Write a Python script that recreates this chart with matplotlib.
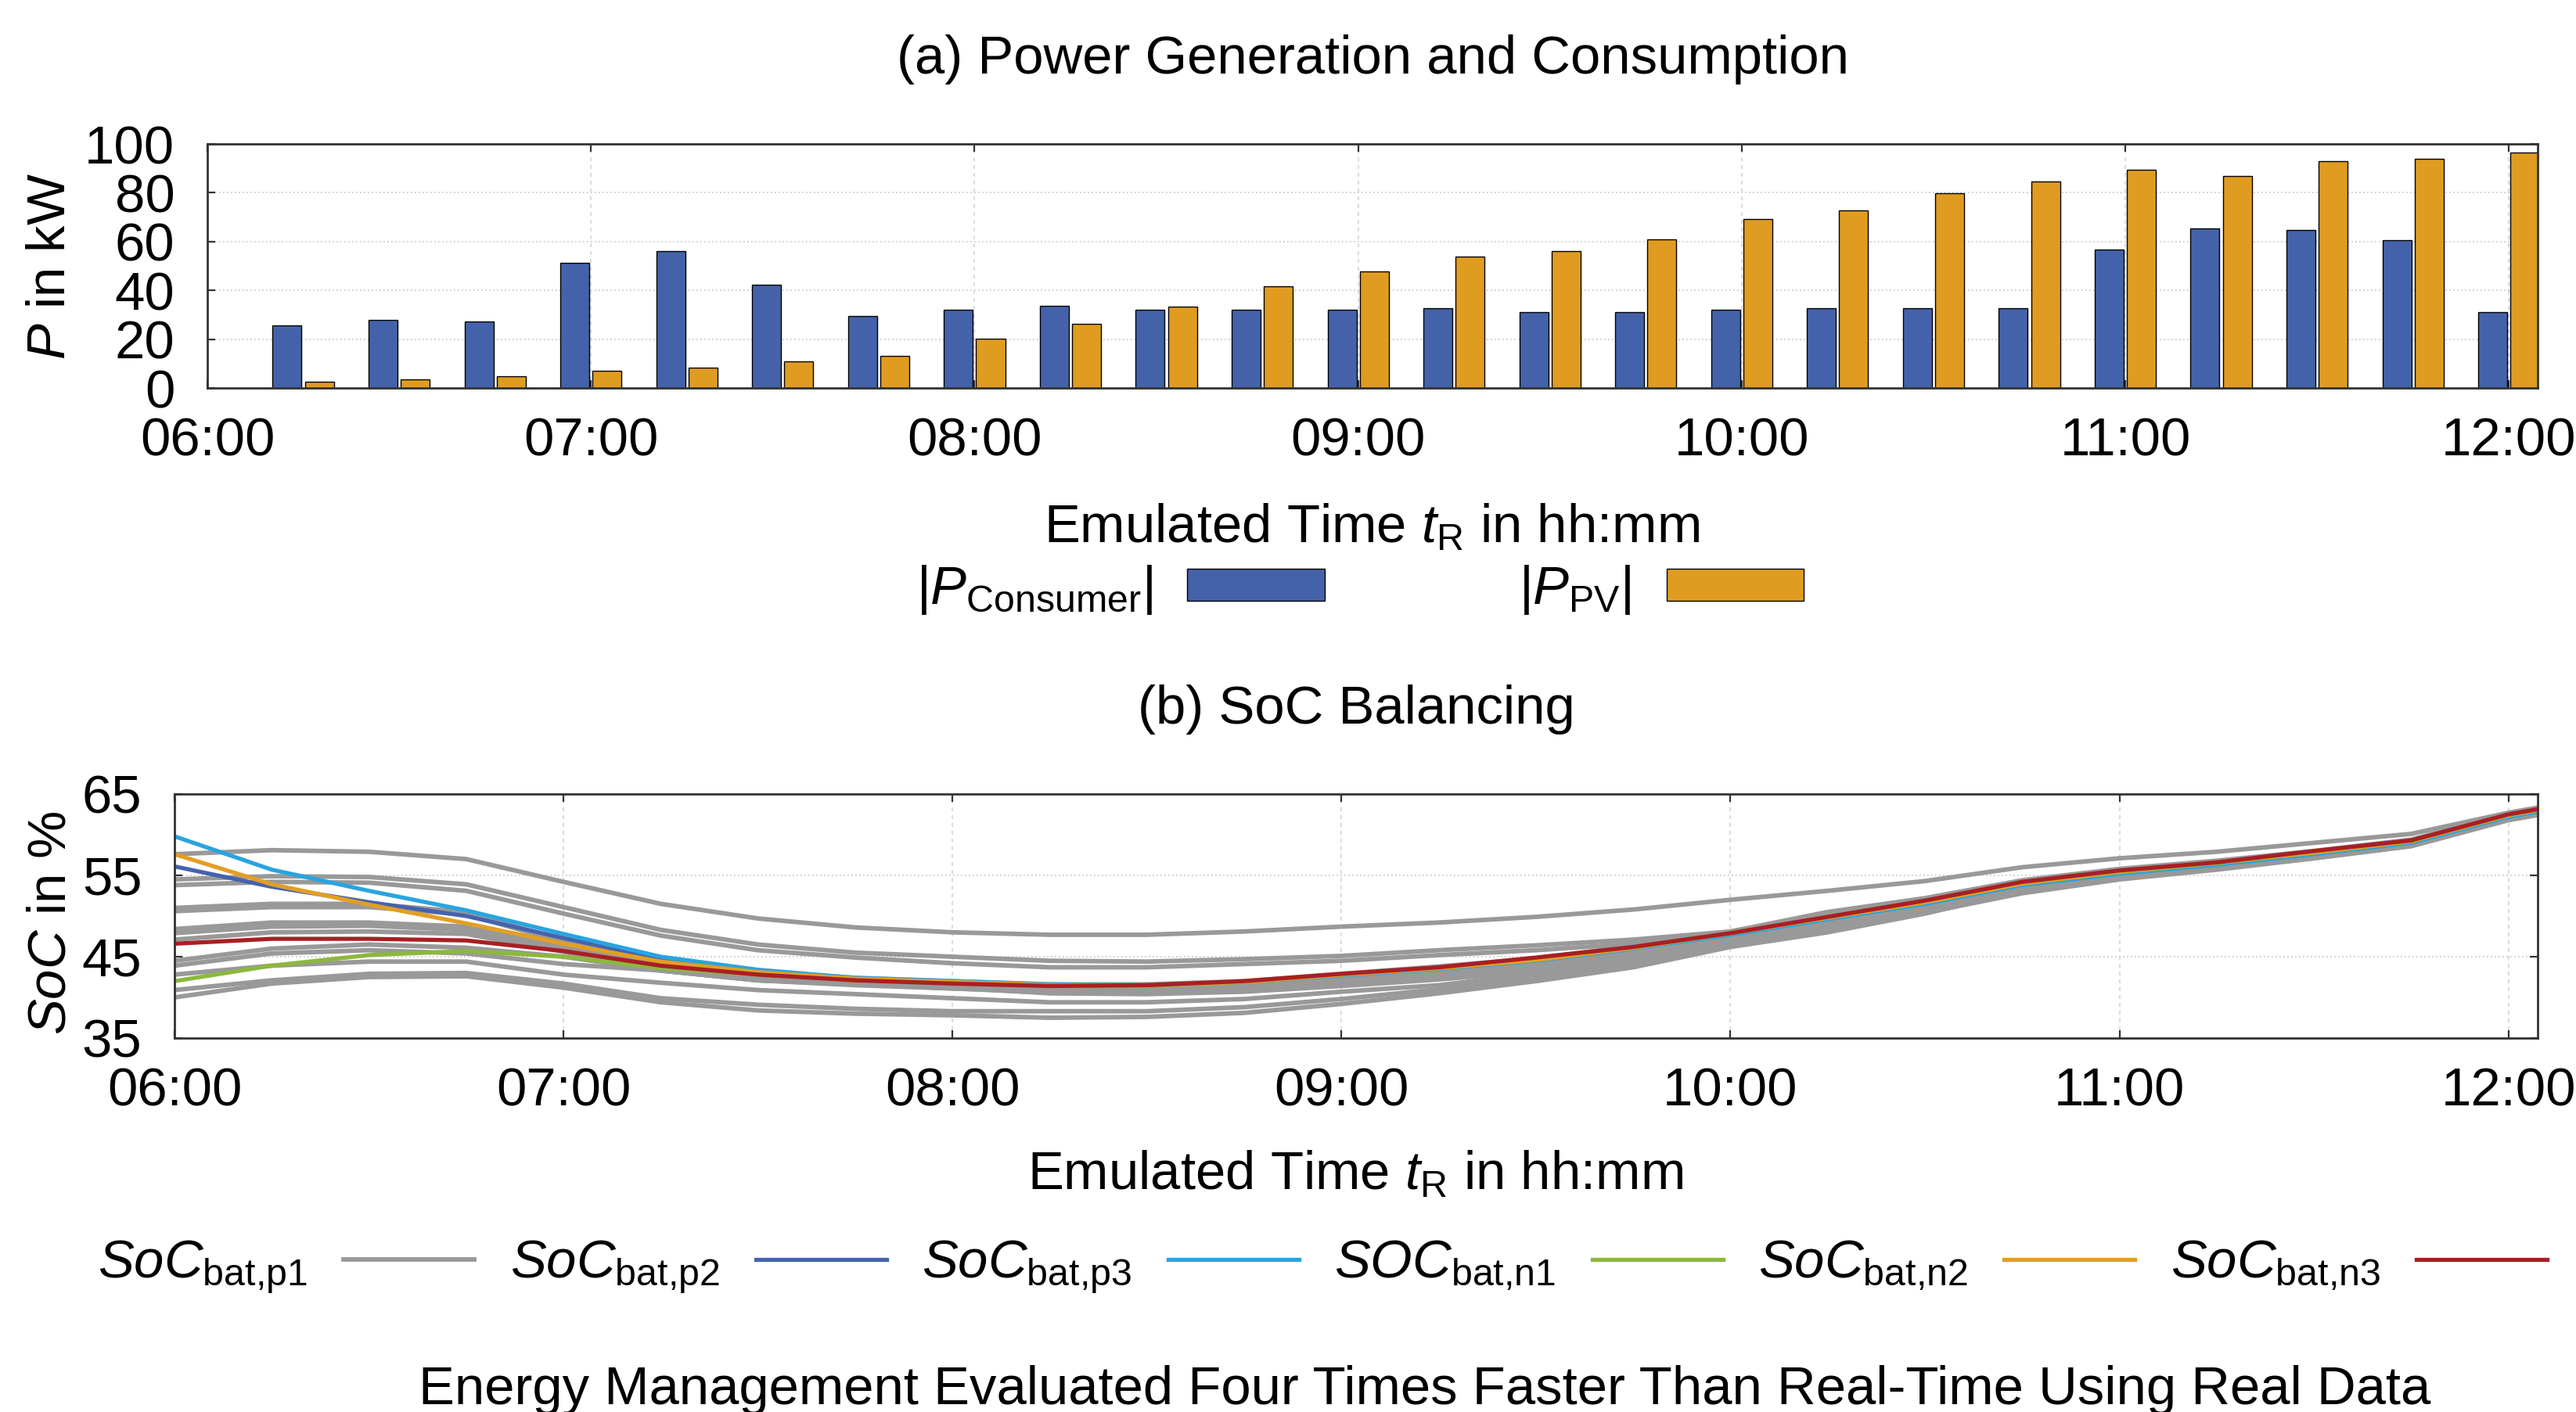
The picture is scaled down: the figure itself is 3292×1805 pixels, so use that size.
import matplotlib
matplotlib.use("Agg")
import matplotlib.pyplot as plt
import numpy as np

plt.rcParams['font.family'] = ['Liberation Sans', 'DejaVu Sans']
plt.rcParams['mathtext.fontset'] = 'custom'
plt.rcParams['mathtext.rm'] = 'Liberation Sans'
plt.rcParams['mathtext.it'] = 'Liberation Sans:italic'
plt.rcParams['mathtext.bf'] = 'Liberation Sans:bold'
plt.rcParams['font.size'] = 24.8

# ---------------- data ----------------
bar_times = ["06:15", "06:30", "06:45", "07:00", "07:15", "07:30", "07:45", "08:00",
             "08:15", "08:30", "08:45", "09:00", "09:15", "09:30", "09:45", "10:00",
             "10:15", "10:30", "10:45", "11:00", "11:15", "11:30", "11:45", "12:00"]
p_consumer = [25.6, 28.0, 27.2, 51.2, 56.0, 42.4, 29.6, 32.0,
              33.7, 32.0, 32.0, 32.0, 32.7, 31.2, 31.2, 32.0,
              32.7, 32.7, 32.7, 56.6, 65.4, 64.7, 60.7, 31.2]
p_pv = [2.5, 3.6, 4.8, 7.2, 8.4, 10.9, 13.2, 20.3,
        26.3, 33.4, 41.6, 47.7, 53.7, 56.0, 60.8, 69.2,
        72.7, 79.7, 84.5, 89.3, 87.0, 93.0, 94.0, 96.5]

soc_times = ["06:00", "06:15", "06:30", "06:45", "07:00", "07:15", "07:30", "07:45",
             "08:00", "08:15", "08:30", "08:45", "09:00", "09:15", "09:30", "09:45",
             "10:00", "10:15", "10:30", "10:45", "11:00", "11:15", "11:30", "11:45",
             "12:00", "12:05"]

soc_p2 = [56.1, 53.6, 51.7, 50.0, 47.3, 44.7, 43.3, 42.3, 41.9, 41.5, 41.5, 41.9, 42.8,
          43.6, 44.6, 46.1, 47.8, 49.8, 51.7, 54.0, 55.4, 56.5, 57.8, 59.2, 62.4, 63.1]
soc_p3 = [59.8, 55.7, 53.1, 50.7, 47.8, 45.0, 43.4, 42.4, 42.0, 41.6, 41.5, 41.9, 42.7,
          43.5, 44.5, 46.0, 47.7, 49.6, 51.5, 53.8, 55.2, 56.3, 57.6, 59.0, 62.2, 62.9]
soc_n1 = [42.0, 43.9, 45.2, 45.7, 45.0, 43.6, 42.8, 42.1, 41.8, 41.4, 41.4, 41.9, 42.8,
          43.6, 44.6, 46.1, 47.9, 49.8, 51.7, 54.0, 55.4, 56.5, 57.8, 59.2, 62.4, 63.1]
soc_n2 = [57.6, 53.9, 51.4, 49.1, 46.6, 44.4, 43.1, 42.3, 41.9, 41.5, 41.5, 41.9, 42.8,
          43.6, 44.6, 46.1, 47.9, 49.8, 51.7, 54.0, 55.5, 56.6, 57.8, 59.2, 62.4, 63.1]
soc_n3 = [46.6, 47.2, 47.2, 47.0, 45.7, 43.9, 42.8, 42.1, 41.7, 41.4, 41.5, 42.0, 42.9,
          43.7, 44.9, 46.2, 47.9, 49.9, 51.9, 54.2, 55.6, 56.6, 58.0, 59.3, 62.5, 63.2]

# gray traces (first one is SoC_bat,p1)
soc_gray = [
    [57.6, 58.1, 57.9, 57.0, 54.2, 51.5, 49.7, 48.6, 48.0, 47.7, 47.7, 48.1, 48.7,
     49.2, 49.9, 50.8, 52.0, 53.1, 54.3, 56.0, 57.1, 57.9, 59.0, 60.1, 62.7, 63.4],
    [54.5, 54.9, 54.8, 53.9, 51.1, 48.3, 46.5, 45.5, 45.0, 44.5, 44.4, 44.7, 45.1,
     45.8, 46.4, 47.1, 48.1, 50.5, 52.2, 54.4, 55.8, 56.8, 58.0, 59.4, 62.6, 63.3],
    [53.8, 54.2, 54.1, 53.1, 50.3, 47.6, 45.8, 44.9, 44.2, 43.7, 43.7, 44.1, 44.5,
     45.2, 45.8, 46.6, 47.8, 50.2, 52.0, 54.3, 55.7, 56.7, 57.9, 59.3, 62.5, 63.2],
    [51.0, 51.5, 51.5, 50.5, 47.0, 44.5, 43.2, 42.4, 42.0, 41.6, 41.6, 42.0, 42.9,
     43.8, 44.8, 46.3, 48.1, 50.1, 52.0, 54.2, 55.6, 56.6, 57.8, 59.2, 62.4, 63.1],
    [50.6, 51.1, 51.1, 50.2, 46.8, 44.2, 42.9, 42.2, 41.8, 41.4, 41.4, 41.8, 42.6,
     43.4, 44.4, 45.9, 47.7, 49.6, 51.5, 53.7, 55.2, 56.3, 57.6, 59.0, 62.2, 62.9],
    [48.4, 49.2, 49.2, 48.7, 46.6, 44.0, 42.7, 42.0, 41.6, 41.2, 41.2, 41.6, 42.4,
     43.2, 44.2, 45.6, 47.4, 49.3, 51.2, 53.5, 55.0, 56.1, 57.4, 58.9, 62.1, 62.8],
    [47.9, 48.7, 48.8, 48.3, 46.1, 43.6, 42.4, 41.7, 41.3, 40.9, 40.9, 41.3, 42.1,
     42.9, 43.9, 45.3, 47.1, 49.0, 51.0, 53.3, 54.8, 56.0, 57.3, 58.8, 62.0, 62.7],
    [47.1, 48.0, 48.1, 47.8, 45.6, 43.3, 42.1, 41.5, 41.1, 40.7, 40.7, 41.1, 41.9,
     42.7, 43.6, 45.0, 46.8, 48.7, 50.7, 53.1, 54.7, 55.9, 57.2, 58.7, 61.9, 62.6],
    [44.5, 46.0, 46.5, 46.1, 45.0, 43.3, 42.1, 41.6, 41.1, 40.6, 40.5, 40.9, 41.6,
     42.4, 43.3, 44.7, 46.5, 48.4, 50.4, 52.8, 54.5, 55.7, 57.1, 58.6, 61.8, 62.5],
    [43.9, 45.4, 45.8, 45.4, 44.1, 43.3, 42.1, 41.7, 41.2, 40.5, 40.4, 40.7, 41.4,
     42.2, 43.2, 44.6, 46.4, 48.4, 50.4, 52.9, 54.6, 55.8, 57.1, 58.6, 61.8, 62.5],
    [42.8, 43.9, 44.4, 44.4, 42.8, 41.8, 40.9, 40.4, 39.9, 39.4, 39.4, 39.8, 40.7,
     41.5, 42.9, 44.4, 46.6, 48.3, 50.5, 53.3, 54.9, 56.1, 57.4, 58.9, 62.1, 62.8],
    [40.9, 42.1, 42.9, 43.0, 41.7, 39.9, 39.1, 38.6, 38.3, 38.3, 38.3, 38.8, 39.8,
     41.0, 42.5, 44.2, 46.6, 48.4, 50.6, 53.3, 55.0, 56.1, 57.4, 59.0, 62.2, 62.9],
    [40.0, 41.7, 42.5, 42.6, 41.2, 39.4, 38.4, 38.0, 37.8, 37.5, 37.6, 38.1, 39.2,
     40.5, 42.0, 43.7, 46.2, 48.0, 50.3, 53.1, 54.8, 56.0, 57.3, 58.9, 62.1, 62.8],
]

tick_labels = ["06:00", "07:00", "08:00", "09:00", "10:00", "11:00", "12:00"]
p_ticks = [0, 20, 40, 60, 80, 100]
soc_ticks = [35, 45, 55, 65]

# ---------------- styling ----------------
W, H = 3292, 1805
DPI = 200
c_blue = '#4462A9'
c_orange = '#DF9C20'
c_gray = '#999999'
c_p2 = '#4563AD'
c_p3 = '#29A4E0'
c_n1 = '#8CB83E'
c_n2 = '#E29F24'
c_n3 = '#A91F24'


def hours(s):
    h, m = s.split(':')
    return int(h) + int(m) / 60.0


tb = np.array([hours(s) for s in bar_times])
ts = np.array([hours(s) for s in soc_times])
tick_pos = [hours(s) for s in tick_labels]
x_end = 12.075

fig = plt.figure(figsize=(W / DPI, H / DPI), dpi=DPI)


def style_axes(ax):
    ax.set_axisbelow(True)
    ax.grid(axis='y', linestyle=(0, (1, 2)), color='#c4c4c4', linewidth=0.6)
    ax.grid(axis='x', linestyle=(0, (3, 3)), color='#d4d4d4', linewidth=0.6)
    ax.tick_params(direction='in', top=True, right=True, length=3.5, width=0.8,
                   color='#333333')
    ax.tick_params(axis='x', pad=13)
    ax.tick_params(axis='y', pad=15)
    for s in ax.spines.values():
        s.set_color('#333333')
        s.set_linewidth(1.0)
    ax.set_xlim(6.0, x_end)
    ax.set_xticks(tick_pos)
    ax.set_xticklabels(tick_labels)


# ---- (a) bars ----
ax1 = fig.add_axes([265 / W, 1 - 496 / H, (3243 - 265) / W, (496 - 184) / H])
style_axes(ax1)
bw = 0.0755
off = 0.042
b1 = ax1.bar(tb - off, p_consumer, width=bw, color=c_blue, edgecolor='black',
             linewidth=0.5, label=r'$|P_{\mathrm{Consumer}}|$')
b2 = ax1.bar(tb + off, p_pv, width=bw, color=c_orange, edgecolor='black',
             linewidth=0.5, label=r'$|P_{\mathrm{PV}}|$')
ax1.set_ylim(0, 100)
ax1.set_yticks(p_ticks)

fig.text(1754 / W, 1 - 76 / H, "(a) Power Generation and Consumption",
         ha='center', va='center')
fig.text(1753 / W, 1 - 693 / H, r"Emulated Time $t_{\mathrm{R}}$ in hh:mm",
         ha='center', va='baseline')
fig.text(65 / W, 1 - 340 / H, r"$P$ in kW", rotation=90, ha='center', va='center')

fig.legend(handles=[b1, b2], loc='center', bbox_to_anchor=(1738 / W, 1 - 754 / H),
           ncol=2, markerfirst=False, frameon=False, handlelength=2.55,
           handleheight=0.53, handletextpad=0.65, columnspacing=3.6)

# ---- (b) SoC ----
ax2 = fig.add_axes([223 / W, 1 - 1327 / H, (3243 - 223) / W, (1327 - 1015) / H])
style_axes(ax2)
lw_gray = 2.1
lw = 1.9
lines = []
for i, g in enumerate(soc_gray):
    ln, = ax2.plot(ts, g, color=c_gray, linewidth=lw_gray,
                   label=r'$SoC_{\mathrm{bat{,}p1}}$' if i == 0 else '_nolegend_')
    if i == 0:
        lines.append(ln)
l2, = ax2.plot(ts, soc_p2, color=c_p2, linewidth=lw, label=r'$SoC_{\mathrm{bat{,}p2}}$')
l3, = ax2.plot(ts, soc_p3, color=c_p3, linewidth=lw, label=r'$SoC_{\mathrm{bat{,}p3}}$')
l4, = ax2.plot(ts, soc_n1, color=c_n1, linewidth=lw, label=r'$SOC_{\mathrm{bat{,}n1}}$')
l5, = ax2.plot(ts, soc_n2, color=c_n2, linewidth=lw, label=r'$SoC_{\mathrm{bat{,}n2}}$')
l6, = ax2.plot(ts, soc_n3, color=c_n3, linewidth=lw, label=r'$SoC_{\mathrm{bat{,}n3}}$')
lines += [l2, l3, l4, l5, l6]
ax2.set_ylim(35, 65)
ax2.set_yticks(soc_ticks)

fig.text(1733 / W, 1 - 907 / H, "(b) SoC Balancing", ha='center', va='center')
fig.text(1732 / W, 1 - 1520 / H, r"Emulated Time $t_{\mathrm{R}}$ in hh:mm",
         ha='center', va='baseline')
fig.text(65 / W, 1 - 1180 / H, r"$SoC$ in %", rotation=90, ha='center', va='center')

fig.legend(handles=lines, loc='center', bbox_to_anchor=(1690 / W, 1 - 1620 / H),
           ncol=6, markerfirst=False, frameon=False, handlelength=2.42,
           handletextpad=0.68, columnspacing=0.66)

fig.text(1821 / W, 1 - 1795 / H,
         "Energy Management Evaluated Four Times Faster Than Real-Time Using Real Data",
         ha='center', va='baseline')

fig.savefig("out.png", dpi=DPI)
